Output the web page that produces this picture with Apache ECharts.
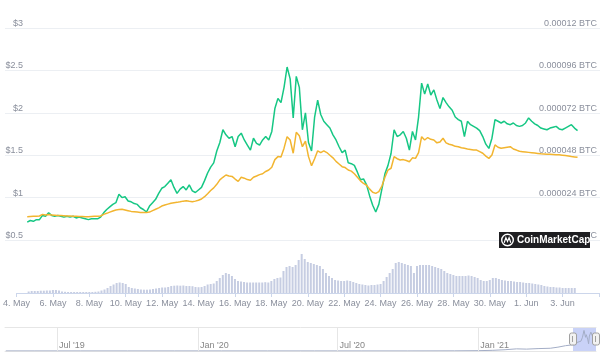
<!DOCTYPE html>
<html><head><meta charset="utf-8">
<script src="https://cdn.jsdelivr.net/npm/echarts@6/dist/echarts.min.js"></script>
<style>html,body{margin:0;padding:0;background:#fff}#c{width:602px;height:360px}</style>
</head><body><div id="c"></div>
<script>
// time of samples: hours since 4 May 2021 00:00, first sample 16:00, then every 4 h
const startHour = 16, stepHours = 4;
const usdPrice = [0.71,0.73,0.72,0.74,0.74,0.79,0.78,0.82,0.79,0.78,
 0.79,0.78,0.77,0.78,0.77,0.78,0.76,0.77,0.76,0.75,
 0.74,0.75,0.75,0.75,0.77,0.82,0.86,0.89,0.92,0.94,
 1.04,1.00,1.01,0.96,0.95,0.93,0.92,0.88,0.86,0.83,
 0.90,0.94,0.98,1.05,1.11,1.13,1.17,1.21,1.12,1.05,
 1.10,1.13,1.09,1.15,1.08,1.06,1.09,1.12,1.20,1.29,
 1.36,1.41,1.55,1.65,1.80,1.74,1.70,1.72,1.60,1.72,
 1.76,1.68,1.62,1.56,1.70,1.64,1.62,1.68,1.72,1.68,
 1.78,2.05,2.17,2.12,2.30,2.54,2.40,1.94,2.43,2.30,
 1.80,2.00,1.65,1.55,1.95,2.15,1.98,1.90,1.86,1.82,
 1.74,1.68,1.60,1.53,1.56,1.41,1.40,1.38,1.30,1.21,
 1.22,1.15,1.02,0.91,0.83,0.92,1.10,1.28,1.38,1.52,
 1.80,1.72,1.74,1.78,1.70,1.56,1.78,1.68,1.95,2.35,
 2.22,2.34,2.21,2.27,2.15,2.05,2.18,2.12,2.07,2.03,
 1.95,1.92,1.90,1.72,1.90,1.86,1.84,1.82,1.79,1.72,
 1.63,1.58,1.70,1.92,1.90,1.88,1.90,1.87,1.86,1.88,
 1.85,1.84,1.85,1.88,1.94,1.90,1.87,1.85,1.82,1.81,
 1.80,1.82,1.83,1.84,1.81,1.80,1.82,1.84,1.86,1.82,
 1.79];
// BTC price in units of 0.00001 BTC
const btcPriceE5 = [1.32,1.33,1.34,1.35,1.36,1.45,1.42,1.44,1.42,1.40,
 1.38,1.38,1.37,1.36,1.36,1.35,1.34,1.33,1.33,1.32,
 1.32,1.33,1.34,1.35,1.36,1.45,1.51,1.58,1.64,1.70,
 1.72,1.74,1.70,1.66,1.62,1.60,1.58,1.56,1.55,1.55,
 1.58,1.66,1.74,1.82,1.92,1.98,2.03,2.08,2.11,2.13,
 2.16,2.20,2.22,2.19,2.17,2.20,2.25,2.32,2.45,2.62,
 2.80,2.95,3.15,3.40,3.55,3.68,3.62,3.60,3.45,3.32,
 3.55,3.50,3.42,3.38,3.55,3.62,3.70,3.75,3.88,3.96,
 4.12,4.55,4.72,4.70,5.20,5.85,5.66,4.91,6.10,5.90,
 5.28,5.60,4.72,4.20,4.60,5.05,4.95,5.05,4.95,4.80,
 4.65,4.45,4.30,4.15,4.10,3.96,3.90,3.75,3.55,3.35,
 3.20,3.10,2.88,2.70,2.64,2.74,3.05,3.55,3.96,4.06,
 4.72,4.60,4.53,4.55,4.50,4.43,4.65,4.62,4.95,5.85,
 5.66,5.80,5.70,5.66,5.50,5.55,5.76,5.50,5.42,5.38,
 5.30,5.28,5.22,5.19,5.15,5.12,5.09,5.09,5.00,4.91,
 4.75,4.62,4.81,5.38,5.25,5.19,5.22,5.25,5.28,5.15,
 5.09,5.02,5.00,4.98,4.96,4.94,4.92,4.90,4.88,4.87,
 4.86,4.85,4.84,4.83,4.82,4.80,4.78,4.75,4.72,4.70,
 4.68];
// volume, millions USD
const volumeM = [1.5,2,2,2,2.3,2.3,2.5,2.5,
 3,3,2.5,
 1.5,1.2,1,1,1,1,1,1,1,1,1,1.2,
 1.5,2.5,3.5,
 5,7,8.5,
 10,10.5,10,9,
 6,5,4.5,4,
 3.5,3.3,3.3,3.5,4,
 4.5,5,5.5,5.5,6,
 7,7.3,7.5,7.3,7.5,7,7,6.8,
 6,5.8,6,7,
 8.5,9,9.5,
 12,15,18,20,19,
 17,14,12,11.5,
 11,10.5,10.5,10.5,10.5,10.5,10.5,10.8,10.5,
 12,14,15,15.5,
 22,26,27,
 26,28,33,
 39,
 34,31,30,29,28,
 27,24,20,
 17,15,13,12.5,
 12,12,12.5,12,11,
 10,9,8.5,8,
 7.5,8,8,8.5,9,
 12,16,20,24,
 30,31,30,29,
 28,27,20,
 27,28,28,28,28,27,
 26,25,24,22,
 20,19,18,17,
 17,17,17,17.5,17,16,
 15,13,12,12,
 13,15,15,14,
 13,12.5,12,12,11.5,11,11,
 10.5,10,10,9.5,9,8.5,8,
 7,6.5,6,6,5.5,5.5,5,5,5,5,5];
const xTickLabels = ['4. May','6. May','8. May','10. May','12. May','14. May','16. May','18. May',
 '20. May','22. May','24. May','26. May','28. May','30. May','1. Jun','3. Jun'];
// navigator (all-time overview)
const navDates = ['2019-04-25','2019-06-01','2019-08-01','2019-10-01','2019-12-01','2020-02-01','2020-04-01',
 '2020-06-01','2020-08-01','2020-10-01','2020-12-01','2021-01-01','2021-01-20','2021-02-05','2021-02-20',
 '2021-03-05','2021-03-20','2021-04-05','2021-04-15','2021-04-25','2021-05-04','2021-05-08','2021-05-10',
 '2021-05-12','2021-05-15','2021-05-17','2021-05-19','2021-05-20','2021-05-21','2021-05-22','2021-05-24',
 '2021-05-25','2021-05-26','2021-05-28','2021-05-30','2021-06-01','2021-06-03'];
const navValues = [0.01,0.01,0.01,0.01,0.01,0.01,0.01,0.01,0.01,0.01,0.02,0.04,0.08,0.15,0.25,
 0.22,0.28,0.32,0.45,0.62,0.72,0.75,1.0,0.85,1.15,1.6,2.4,2.2,1.6,1.9,1.3,0.85,1.75,2.2,1.75,1.88,1.8];
const navTickDates = ['2019-07-01','2020-01-01','2020-07-01','2021-01-01'];
const navTickLabels = ["Jul '19","Jan '20","Jul '20","Jan '21"];

const H = 3600000;
const epoch = Date.UTC(2021,4,4,0);
const navStart = Date.UTC(2019,3,24,0), navEnd = Date.UTC(2021,5,3,16);
const t = i => startHour + i*stepHours;
const FONT = 'Liberation Sans';
const gridC = '#eceff3', labC = '#8a8f9c';

const chart = echarts.init(document.getElementById('c'), null, {renderer:'canvas'});
chart.setOption({
  animation:false,
  textStyle:{fontFamily:FONT},
  grid:[
    {left:5, right:2, top:28, height:212},
    {left:15, right:-21, top:28, height:212},
    {left:15, right:-21, top:250, height:43},
    {left:5, right:6, top:327, height:24}
  ],
  xAxis:[
    {gridIndex:0, type:'value', min:0, max:1, show:false},
    {gridIndex:1, type:'value', min:0, max:768, show:false},
    {gridIndex:2, type:'value', min:0, max:768, interval:48,
      axisLine:{show:true, lineStyle:{color:'#ccd6eb'}},
      axisTick:{show:true, length:4, lineStyle:{color:'#ccd6eb'}},
      splitLine:{show:false},
      axisLabel:{color:labC, fontSize:9, margin:6, fontFamily:FONT,
        formatter:v => (v % 48 === 0 && xTickLabels[v/48]) ? xTickLabels[v/48] : ''}},
    {gridIndex:3, type:'time', min:navStart, max:navEnd,
      axisLine:{show:true, lineStyle:{color:'#e6e6e6'}}, axisTick:{show:false}, axisLabel:{show:false}, splitLine:{show:false}},
    {gridIndex:3, type:'time', min:navStart, max:navEnd, position:'top',
      axisLine:{show:true, lineStyle:{color:'#e6e6e6'}}, axisTick:{show:false}, axisLabel:{show:false}, splitLine:{show:false}}
  ],
  yAxis:[
    {gridIndex:0, position:'left', min:0.5, max:3, interval:0.5,
      axisLine:{show:false}, axisTick:{show:false},
      splitLine:{show:true, lineStyle:{color:gridC}},
      axisLabel:{inside:true, align:'right', margin:18, verticalAlign:'bottom', color:labC, fontSize:9, fontFamily:FONT,
        formatter:v => '$' + v}},
    {gridIndex:0, position:'right', min:0, max:0.00012, interval:0.000024,
      axisLine:{show:false}, axisTick:{show:false}, splitLine:{show:false},
      axisLabel:{inside:true, margin:3, verticalAlign:'bottom', color:labC, fontSize:9, fontFamily:FONT,
        formatter:v => Number(v.toPrecision(6)) + ' BTC'}},
    {gridIndex:1, min:0.5, max:3, show:false},
    {gridIndex:1, min:0, max:0.00012, show:false},
    {gridIndex:2, min:0, max:43, show:false},
    {gridIndex:3, min:0, max:2.8, show:false}
  ],
  series:[
    {type:'bar', xAxisIndex:2, yAxisIndex:4, barWidth:2, itemStyle:{color:'#c6cde2'},
      data: volumeM.map((v,i)=>[t(i), v]), silent:true},
    {type:'line', xAxisIndex:1, yAxisIndex:2, showSymbol:false, symbol:'none', z:3,
      lineStyle:{color:'#16c784', width:1.5}, data: usdPrice.map((v,i)=>[t(i), v])},
    {type:'line', xAxisIndex:1, yAxisIndex:3, showSymbol:false, symbol:'none', z:4,
      lineStyle:{color:'#f2b530', width:1.5}, data: btcPriceE5.map((v,i)=>[t(i), v*1e-5])},
    {type:'line', xAxisIndex:3, yAxisIndex:5, showSymbol:false, symbol:'none', z:3,
      lineStyle:{color:'#a3adc6', width:1}, data: navDates.map((d,i)=>[d, navValues[i]]),
      markLine:{silent:true, symbol:'none', label:{show:false}, lineStyle:{color:'#e6e6e6', type:'solid', width:1},
        data: navTickDates.map(d=>({xAxis:d}))}},
    {type:'scatter', xAxisIndex:3, yAxisIndex:5, symbolSize:0, silent:true,
      data: navTickDates.map((d,i)=>({value:[d,0], name:navTickLabels[i]})),
      label:{show:true, position:'right', distance:2, offset:[0,-5], formatter:'{b}', color:'#666', fontSize:9, fontFamily:FONT}}
  ]
});

// navigator selection & handles derived from data range
const sx0 = chart.convertToPixel({xAxisIndex:3}, epoch + t(0)*H);
const sx1 = chart.convertToPixel({xAxisIndex:3}, epoch + t(usdPrice.length-1)*H);
const ny0 = chart.convertToPixel({yAxisIndex:5}, 2.8);
const ny1 = chart.convertToPixel({yAxisIndex:5}, 0);
const cy = (ny0+ny1)/2;
const handle = x => [
  {type:'rect', z:100, silent:true, shape:{x:x-3.5, y:cy-6, width:7, height:12, r:2}, style:{fill:'#f2f2f2', stroke:'#a0a0a0', lineWidth:1}},
  {type:'line', z:101, silent:true, shape:{x1:x-0.5, y1:cy-3, x2:x-0.5, y2:cy+3}, style:{stroke:'#a0a0a0', lineWidth:1}}
];
chart.setOption({graphic:[
  {type:'rect', z:0, silent:true, shape:{x:sx0, y:ny0, width:sx1-sx0, height:ny1-ny0}, style:{fill:'#c9d2f7'}},
  ...handle(sx0), ...handle(sx1),
  {type:'rect', z:200, silent:true, shape:{x:499, y:232, width:91, height:16}, style:{fill:'#1f1f22'}},
  {type:'circle', z:201, silent:true, shape:{cx:507.5, cy:240, r:5.8}, style:{fill:'none', stroke:'#fff', lineWidth:1.4}},
  {type:'polyline', z:202, silent:true, shape:{points:[[504.2,242.8],[505.9,237.6],[507.5,241.4],[509.1,237.6],[510.8,242.8]]}, style:{fill:'none', stroke:'#fff', lineWidth:1.2}},
  {type:'text', z:203, silent:true, style:{x:517, y:240.5, text:'CoinMarketCap', fill:'#fff', font:'bold 10px "Liberation Sans"', verticalAlign:'middle', align:'left'}}
]});
</script></body></html>
